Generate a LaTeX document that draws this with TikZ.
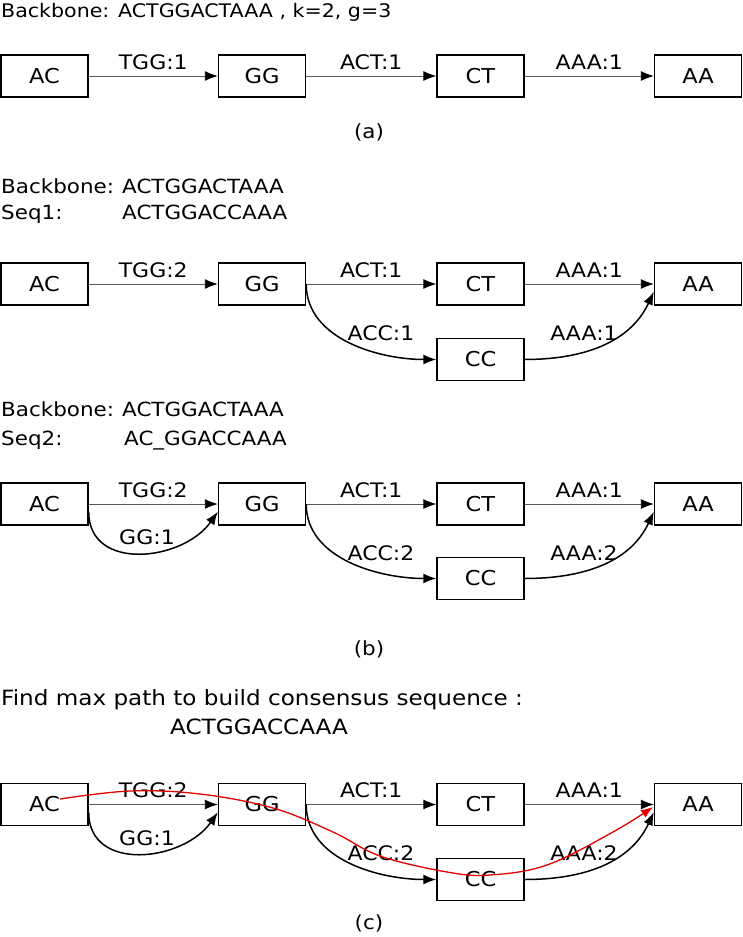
\documentclass[tikz,border=0pt]{standalone}
\usepackage{fontspec}
\setmainfont{DejaVu Sans}[FakeStretch=1.1]
\usetikzlibrary{arrows.meta}
\begin{document}
\begin{tikzpicture}[x=1pt,y=1pt,
  box/.style={draw, line width=1.4pt, minimum width=87pt, minimum height=42pt, inner sep=0pt, font=\fontsize{20.5}{22}\selectfont},
  lbl/.style={inner sep=0pt, font=\fontsize{20}{22}\selectfont},
  txt/.style={inner sep=0pt, anchor=base west, font=\fontsize{19.5}{22}\selectfont},
  titletxt/.style={inner sep=0pt, anchor=base west, font=\fontsize{18.7}{22}\selectfont},
  bigtxt/.style={inner sep=0pt, anchor=base west, font=\fontsize{21}{22}\selectfont},
  captxt/.style={inner sep=0pt, font=\fontsize{19.5}{22}\selectfont},
  sarr/.style={draw=black!65, line width=0.9pt, -{Latex[length=13pt,width=10pt,color=black]}},
  carr/.style={draw=black, line width=1.5pt, -{Latex[length=13pt,width=10pt]}},
  redarr/.style={draw=red!90!black, line width=1.3pt, -{Latex[length=12pt,width=9pt]}},
  slbl/.style={lbl, midway, yshift=14pt}
]
\useasboundingbox (0,0) rectangle (742,-937);

% ---------- (a) ----------
\node[titletxt] (t0) at (1,-17) {Backbone: ACTGGACTAAA , k=2, g=3};
\node[box] (a1) at (44.5,-76) {AC};
\node[box] (g1) at (262,-76) {GG};
\node[box] (t1) at (480.5,-76) {CT};
\node[box] (z1) at (698,-76) {AA};
\draw[sarr] (a1) -- node[slbl] (l11) {TGG:1} (g1);
\draw[sarr] (g1) -- node[slbl] (l12) {ACT:1} (t1);
\draw[sarr] (t1) -- node[slbl] (l13) {AAA:1} (z1);
\node[captxt] (capa) at (369,-132) {(a)};

% ---------- (b) first ----------
\node[txt] (bb1) at (1,-193) {Backbone:};
\node[txt] (bs1) at (122,-193) {ACTGGACTAAA};
\node[txt] (sq1) at (1,-219) {Seq1:};
\node[txt] (ss1) at (122,-219) {ACTGGACCAAA};
\node[box] (a2) at (44.5,-284) {AC};
\node[box] (g2) at (262,-284) {GG};
\node[box] (t2) at (480.5,-284) {CT};
\node[box] (z2) at (698,-284) {AA};
\node[box] (c2) at (480.5,-359.5) {CC};
\draw[sarr] (a2) -- node[slbl] (l21) {TGG:2} (g2);
\draw[sarr] (g2) -- node[slbl] (l22) {ACT:1} (t2);
\draw[sarr] (t2) -- node[slbl] (l23) {AAA:1} (z2);
\draw[carr] (g2.east) to[out=-90, in=180, looseness=0.95] (c2.west);
\draw[carr] (c2.east) to[out=0, in=-115] (z2.190);
\node[lbl] (l24) at (381,-333) {ACC:1};
\node[lbl] (l25) at (584,-333) {AAA:1};

% ---------- (b) second ----------
\node[txt] (bb2) at (1,-416) {Backbone:};
\node[txt] (bs2) at (122,-416) {ACTGGACTAAA};
\node[txt] (sq2) at (1,-445) {Seq2:};
\node[txt] (ss2) at (124,-445) {AC\_GGACCAAA};
\node[box] (a3) at (44.5,-504) {AC};
\node[box] (g3) at (262,-504) {GG};
\node[box] (t3) at (480.5,-504) {CT};
\node[box] (z3) at (698,-504) {AA};
\node[box] (c3) at (480.5,-578.5) {CC};
\draw[sarr] (a3) -- node[slbl] (l31) {TGG:2} (g3);
\draw[sarr] (g3) -- node[slbl] (l32) {ACT:1} (t3);
\draw[sarr] (t3) -- node[slbl] (l33) {AAA:1} (z3);
\draw[carr] (a3.350) to[out=-90, in=-125, looseness=1.2] (g3.190);
\draw[carr] (g3.east) to[out=-90, in=180, looseness=0.95] (c3.west);
\draw[carr] (c3.east) to[out=0, in=-115] (z3.190);
\node[lbl] (l34) at (147,-537) {GG:1};
\node[lbl] (l35) at (381,-553) {ACC:2};
\node[lbl] (l36) at (584,-553) {AAA:2};
\node[captxt] (capb) at (369,-649) {(b)};

% ---------- (c) ----------
\node[bigtxt] (fm) at (1,-705) {Find max path to build consensus sequence :};
\node[bigtxt] (cs) at (170,-734) {ACTGGACCAAA};
\node[box] (a4) at (44.5,-804.5) {AC};
\node[box] (g4) at (262,-804.5) {GG};
\node[box] (t4) at (480.5,-804.5) {CT};
\node[box] (z4) at (698,-804.5) {AA};
\node[box] (c4) at (480.5,-879.5) {CC};
\draw[sarr] (a4) -- node[slbl] (l41) {TGG:2} (g4);
\draw[sarr] (g4) -- node[slbl] (l42) {ACT:1} (t4);
\draw[sarr] (t4) -- node[slbl] (l43) {AAA:1} (z4);
\draw[carr] (a4.350) to[out=-90, in=-125, looseness=1.2] (g4.190);
\draw[carr] (g4.east) to[out=-90, in=180, looseness=0.95] (c4.west);
\draw[carr] (c4.east) to[out=0, in=-115] (z4.190);
\node[lbl] (l44) at (147,-838.5) {GG:1};
\node[lbl] (l45) at (381,-853.5) {ACC:2};
\node[lbl] (l46) at (584,-853.5) {AAA:2};
\draw[redarr] plot[smooth, tension=0.6] coordinates {(60,-799) (130,-791) (200,-794) (273,-808) (333,-832) (380,-856) (447,-872) (490,-875) (547,-865) (613,-832) (653,-807)};
\node[captxt] (capc) at (369,-923) {(c)};
\end{tikzpicture}
\end{document}
